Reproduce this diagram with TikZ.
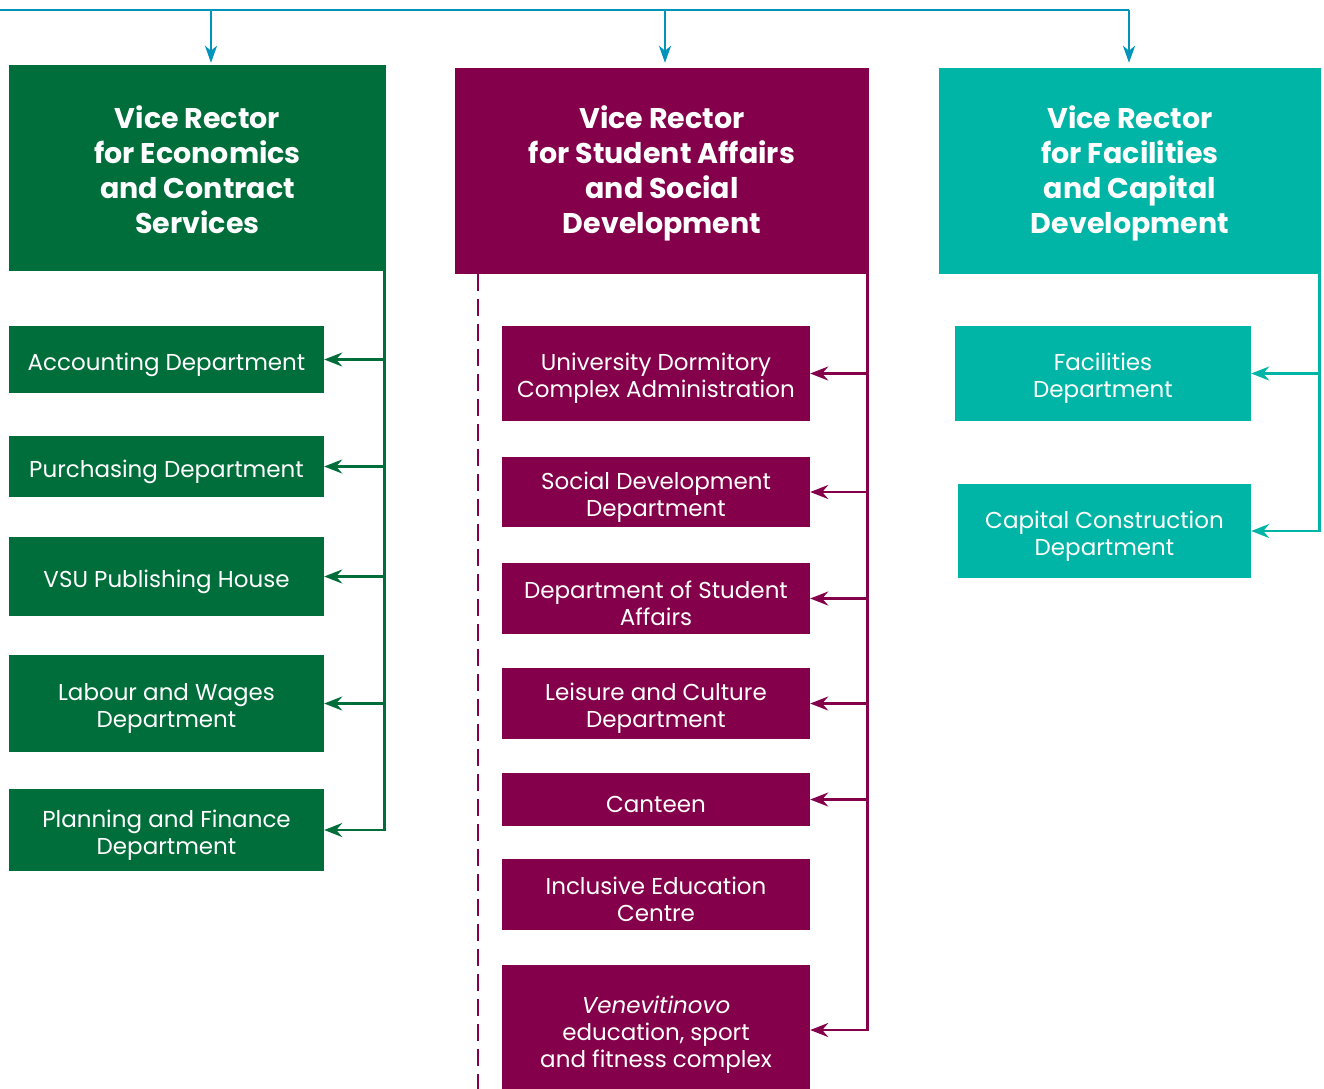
\documentclass[tikz,border=0pt]{standalone}
\usepackage{fontspec}
\setmainfont{Poppins}
\usetikzlibrary{arrows.meta}
\definecolor{econgreen}{RGB}{0,110,58}
\definecolor{studmaroon}{RGB}{133,0,74}
\definecolor{facteal}{RGB}{0,181,166}
\definecolor{topblue}{RGB}{0,148,186}
\tikzset{
  headbox/.style={rectangle, inner sep=0pt},
  headtext/.style={inner sep=0pt, text=white, align=center, yshift=-2pt,
    font=\bfseries\fontsize{28.5}{35}\selectfont},
  subbox/.style={rectangle, inner sep=0pt},
  subtext/.style={inner sep=0pt, text=white, align=center, yshift=-5pt,
    font=\fontsize{23}{27}\selectfont},
  tip/.style={-{Stealth[length=18pt,width=14pt,inset=6pt]}},
  toptip/.style={-{Stealth[length=17pt,width=12pt,inset=5pt]}},
  gwire/.style={draw=econgreen, line width=2.5pt, tip},
  mwire/.style={draw=studmaroon, line width=2.5pt, tip},
  twire/.style={draw=facteal, line width=2.5pt, tip},
  bwire/.style={draw=topblue, line width=2.8pt},
}
\begin{document}
\begin{tikzpicture}[x=1pt,y=-1pt]
\useasboundingbox (0,0) rectangle (1324,1088);

% vice rector headers
\node[headbox, fill=econgreen, minimum width=377pt, minimum height=206pt,
  label={[headtext]center:{Vice Rector\\for Economics\\and Contract\\Services}}] (gh) at (197.5,168) {};
\node[headbox, fill=studmaroon, minimum width=414pt, minimum height=206pt,
  label={[headtext]center:{Vice Rector\\for Student Affairs\\and Social\\Development}}] (mh) at (662,171) {};
\node[headbox, fill=facteal, minimum width=382pt, minimum height=206pt,
  label={[headtext]center:{Vice Rector\\for Facilities\\and Capital\\Development}}] (th) at (1130,171) {};

% economics departments
\tikzset{gsub/.style={subbox, fill=econgreen, minimum width=315pt}}
\node[gsub, minimum height=67pt, label={[subtext]center:Accounting Department}] (acc) at (166.5,359.5) {};
\node[gsub, minimum height=61pt, label={[subtext]center:Purchasing Department}] (pur) at (166.5,466.5) {};
\node[gsub, minimum height=79pt, label={[subtext]center:VSU Publishing House}] (pub) at (166.5,576.5) {};
\node[gsub, minimum height=97pt, label={[subtext]center:{Labour and Wages\\Department}}] (lab) at (166.5,703.5) {};
\node[gsub, minimum height=82pt, label={[subtext]center:{Planning and Finance\\Department}}] (pln) at (166.5,830) {};

% student affairs departments
\tikzset{msub/.style={subbox, fill=studmaroon, minimum width=308pt}}
\node[msub, minimum height=95pt, label={[subtext]center:{University Dormitory\\Complex Administration}}] (dorm) at (656,373.5) {};
\node[msub, minimum height=70pt, label={[subtext]center:{Social Development\\Department}}] (soc) at (656,492) {};
\node[msub, minimum height=71pt, label={[subtext]center:{Department of Student\\Affairs}}] (stu) at (656,598.5) {};
\node[msub, minimum height=71pt, label={[subtext]center:{Leisure and Culture\\Department}}] (lei) at (656,703.5) {};
\node[msub, minimum height=53pt, label={[subtext]center:Canteen}] (can) at (656,799.5) {};
\node[msub, minimum height=71pt, label={[subtext]center:{Inclusive Education\\Centre}}] (inc) at (656,894.5) {};
\node[msub, minimum height=130pt, label={[subtext]center:{\itshape Venevitinovo\\education, sport\\and fitness complex}}] (ven) at (656,1030) {};

% facilities departments
\tikzset{tsub/.style={subbox, fill=facteal}}
\node[tsub, minimum width=296pt, minimum height=95pt, label={[subtext]center:{Facilities\\Department}}] (fac) at (1103,373.5) {};
\node[tsub, minimum width=293pt, minimum height=94pt, label={[subtext]center:{Capital Construction\\Department}}] (cap) at (1104.5,531) {};

% top distribution line
\coordinate (bl) at (-5,10);
\coordinate (j1) at (211,10);
\coordinate (j2) at (665,10);
\coordinate (j3) at (1129,10);
\draw[bwire] (bl) -- (j3);
\draw[bwire, toptip] (j1) -- ([yshift=2pt]j1 |- gh.north);
\draw[bwire, toptip] (j2) -- ([yshift=5pt]j2 |- mh.north);
\draw[bwire, toptip] (j3) -- ([yshift=5pt]j3 |- th.north);

% economics trunk
\coordinate (gt) at ([xshift=-1.5pt]gh.south east);
\foreach \n in {acc,pur,pub,lab,pln} \draw[gwire] (gt) |- (\n.east);

% student affairs trunk
\coordinate (mt) at ([xshift=-1.5pt]mh.south east);
\foreach \n in {dorm,soc,stu,lei,can,ven} \draw[mwire] (mt) |- (\n.east);
\coordinate (dtop) at ([xshift=23pt]mh.south west);
\coordinate (dend) at (dtop |- 0,1092);
\draw[draw=studmaroon, line width=2.5pt, dash pattern=on 17pt off 8pt] (dtop) -- (dend);

% facilities trunk
\coordinate (tt) at ([xshift=-1.5pt]th.south east);
\foreach \n in {fac,cap} \draw[twire] (tt) |- (\n.east);
\end{tikzpicture}
\end{document}
